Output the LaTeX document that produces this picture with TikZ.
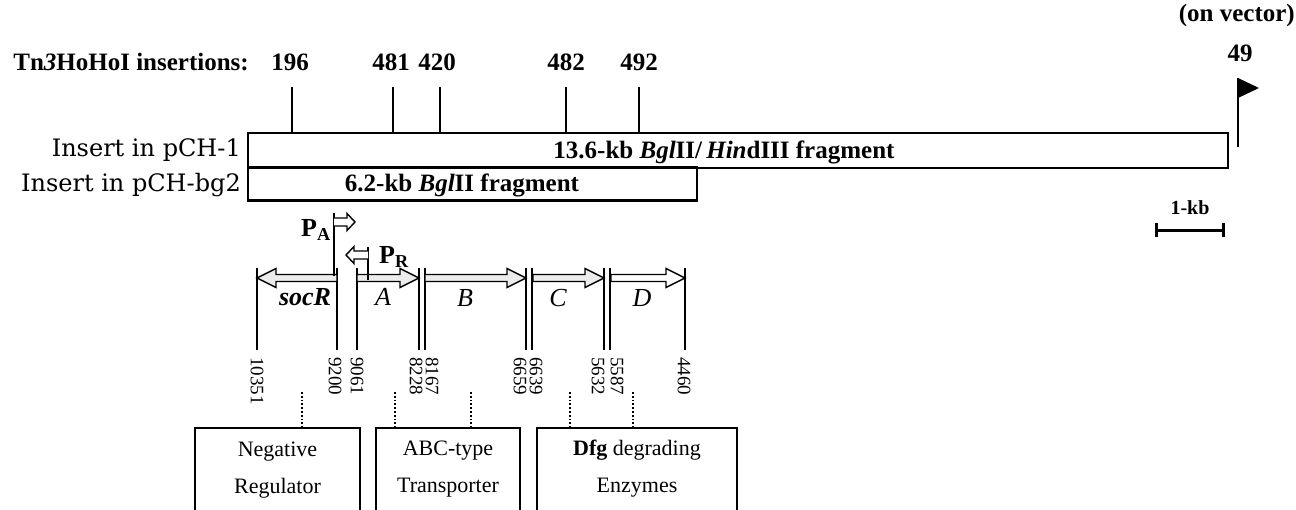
\documentclass[tikz,border=0pt]{standalone}
\usepackage{fontspec}
\setmainfont{Liberation Serif}
\newfontfamily\numfont{Liberation Serif}
\newfontfamily\insfont{DejaVu Serif}
\usetikzlibrary{calc,arrows.meta}

\begin{document}
\begin{tikzpicture}[x=1pt,y=-1pt,
    hd/.style={font=\fontsize{25}{27}\selectfont\bfseries,inner sep=0pt},
    ins/.style={font=\insfont\fontsize{24}{26}\selectfont,inner sep=0pt,anchor=east},
    frag/.style={draw,line width=2.2pt,inner sep=0pt},
    fragtxt/.style={font=\fontsize{25}{27}\selectfont\bfseries,inner sep=0pt},
    bplbl/.style={font=\numfont\fontsize{19}{21}\selectfont,rotate=-90,anchor=west,inner sep=0pt},
    gene/.style={font=\fontsize{26}{28}\selectfont\itshape,inner sep=0pt},
    genearr/.style={draw,line width=1.4pt,line join=miter},
    role/.style={font=\fontsize{22}{37}\selectfont,align=center,inner sep=0pt},
    rolebox/.style={draw,line width=2pt,minimum height=90pt,inner sep=0pt},
    link/.style={dotted,line width=1.8pt}]
  \useasboundingbox (0,0) rectangle (1296,509);
  \node[frag,minimum width=980pt,minimum height=35pt] (pch1) at (738,150.5) {};
  \node[frag,minimum width=449pt,minimum height=33pt] (pbg2) at (472.5,184) {};
  \node[fragtxt] (f1) at (724,152) {13.6-kb \textit{Bgl}II/\,\textit{Hin}dIII fragment};
  \node[fragtxt] (f2) at (462,185) {6.2-kb \textit{Bgl}II fragment};
  \node[ins] (l1) at (241,150) {Insert in pCH-1};
  \node[ins] (l2) at (241,185) {Insert in pCH-bg2};
  \node[hd,anchor=east] (tn) at (249,62) {Tn\textit{3}HoHoI insertions:};
  \foreach \x/\n/\lx in {292/196/290,393/481/391,440/420/437,566/482/566,639/492/639}{
    \node[hd] (i\n) at (\lx,62) {\n};
    \coordinate (c\n) at (\x,87);
    \draw[line width=2pt] (c\n) -- (c\n |- pch1.north);
  }
  \node[hd,anchor=east] (vec) at (1295,15) {(on vector)};
  \node[hd] (i49) at (1240,53) {49};
  \coordinate (flag) at (1238,147);
  \draw[line width=2pt] (flag) -- ++(0,-69);
  \fill (1238,78) -- (1259,88) -- (1238,98) -- cycle;
  \node[hd,font=\fontsize{20}{22}\selectfont\bfseries] (kb) at (1190,208) {1-kb};
  \coordinate (kbL) at (1155,230);
  \coordinate (kbR) at (1225,230);
  \draw[line width=3pt,{Bar[width=14pt]}-{Bar[width=14pt]}] (kbL) -- (kbR);
  \foreach \x in {257,337,357,419,425,526,532,604,610,685}
    \draw[line width=2pt] (\x,268) -- (\x,350);
  \foreach \a/\b/\f in {337/257/gray!15,357/419/gray!15,425/526/gray!15,533/604/gray!15,611/685/white}{
    \pgfmathsetmacro\h{\b-19*sign(\b-\a)}
    \draw[genearr,fill=\f] (\a,274.5) -- (\h,274.5) -- (\h,268.5) -- (\b,278) -- (\h,287.5) -- (\h,281.5) -- (\a,281.5) -- cycle;
  }
  \foreach \x/\t in {257/10351,335/9200,357/9061,416/8228,432/8167,520/6659,536/6639,598/5632,617/5587,684/4460}
    \node[bplbl] (b\t) at (\x,357) {\t};
  \node[gene,font=\fontsize{26}{28}\selectfont\bfseries\itshape] (gR) at (305,297) {socR};
  \node[gene] (gA) at (383,297) {A};
  \node[gene] (gB) at (465,298) {B};
  \node[gene] (gC) at (558,298) {C};
  \node[gene] (gD) at (642,298) {D};
  \draw[line width=2pt] (334,213) -- (334,276);
  \draw[genearr,fill=white] (334,218) -- (347,218) -- (347,213.5) -- (355,222) -- (347,230.5) -- (347,226) -- (334,226);
  \node[hd,font=\fontsize{26}{28}\selectfont\bfseries] (pa) at (316,230) {P\textsubscript{A}};
  \draw[line width=2pt] (368,247) -- (368,280);
  \draw[genearr,fill=white] (368,251) -- (354,251) -- (354,246.5) -- (346,255) -- (354,263.5) -- (354,259) -- (368,259);
  \node[hd,font=\fontsize{26}{28}\selectfont\bfseries] (pr) at (394,257) {P\textsubscript{R}};
  \node[rolebox,minimum width=165pt] (neg) at (277.5,473) {};
  \node[rolebox,minimum width=144pt] (abc) at (448,473) {};
  \node[rolebox,minimum width=200pt] (dfg) at (637,473) {};
  \node[role] (tneg) at ($(neg.north)+(0,43)$) {Negative\\Regulator};
  \node[role] (tabc) at ($(abc.north)+(0,42)$) {ABC-type\\Transporter};
  \node[role] (tdfg) at ($(dfg.north)+(0,42)$) {\textbf{Dfg} degrading\\Enzymes};
  \foreach \x/\b in {302/neg,395/abc,471/abc,570/dfg,633/dfg}{
    \coordinate (d\x) at (\x,392);
    \draw[link] (d\x) -- (d\x |- \b.north);
  }
\end{tikzpicture}
\end{document}
